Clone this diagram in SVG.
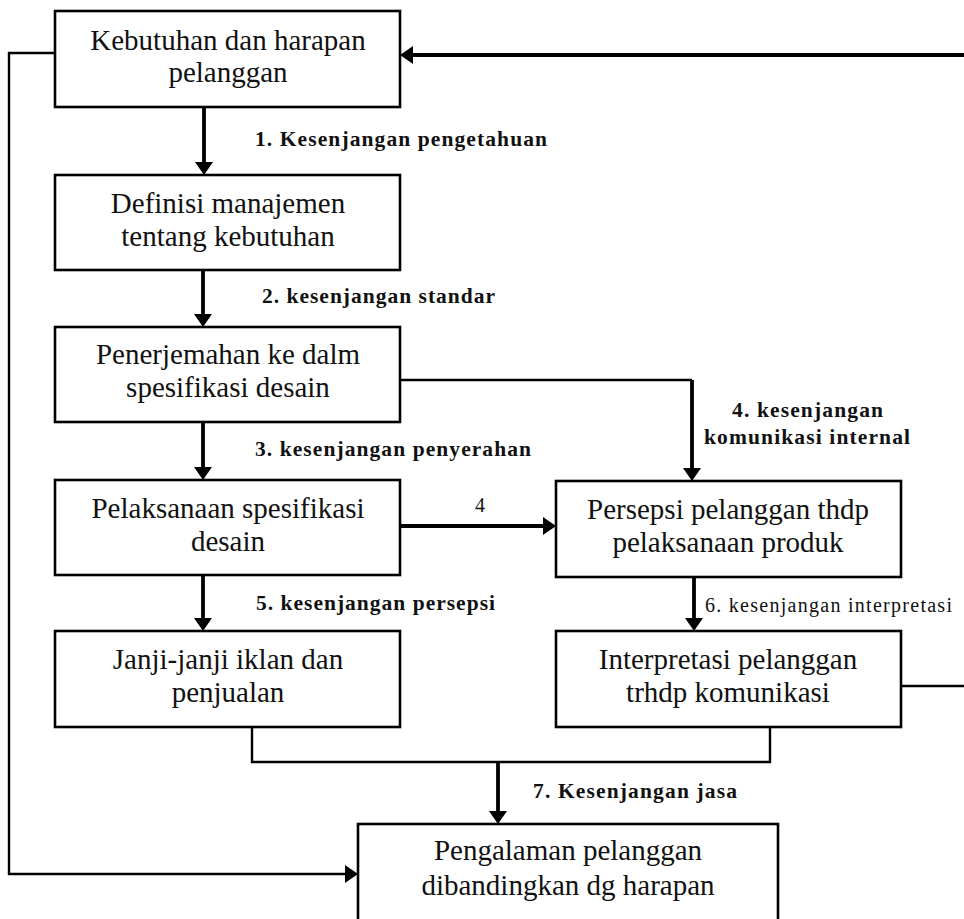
<svg xmlns="http://www.w3.org/2000/svg" width="964" height="919" viewBox="0 0 964 919">
<style>
.box{fill:#fff;stroke:#000;stroke-width:2.6}
.nt{font-family:"Liberation Serif","Times New Roman",serif;font-size:29px;fill:#111;text-anchor:middle}
.lb{font-family:"Liberation Serif","Times New Roman",serif;font-size:21.5px;font-weight:bold;fill:#111}
.lr{font-family:"Liberation Serif","Times New Roman",serif;font-size:20px;fill:#111}
.thin{fill:none;stroke:#000;stroke-width:2.4}
.thick{fill:none;stroke:#000;stroke-width:3.8}
</style>
<defs>
<marker id="ah" markerUnits="userSpaceOnUse" markerWidth="14" markerHeight="18" refX="10" refY="9" orient="auto">
<path d="M0,0 L13,9 L0,18 z" fill="#000"/>
</marker>
</defs>
<rect width="964" height="919" fill="#fff"/>
<g id="connectors">
<path class="thick" d="M204,107 V172" marker-end="url(#ah)"/>
<path class="thick" d="M203,270 V324" marker-end="url(#ah)"/>
<path class="thick" d="M203,422 V477" marker-end="url(#ah)"/>
<path class="thick" d="M203,575 V628" marker-end="url(#ah)"/>
<path class="thin" d="M400,380 H692"/>
<path class="thick" d="M692,380 V478" marker-end="url(#ah)"/>
<path class="thick" d="M400,526 H553" marker-end="url(#ah)"/>
<path class="thick" d="M694,577 V628" marker-end="url(#ah)"/>
<path class="thin" d="M901,686 H965.5 V55"/>
<path class="thick" d="M967,55 H403" marker-end="url(#ah)"/>
<path class="thin" d="M252,727 V762 H770 V727"/>
<path class="thick" d="M498,762 V821" marker-end="url(#ah)"/>
<path class="thin" d="M55,53 H9 V874 H355" marker-end="url(#ah)"/>
<text class="lb" x="255" y="146" textLength="292" lengthAdjust="spacing">1. Kesenjangan pengetahuan</text>
<text class="lb" x="262" y="303" textLength="233" lengthAdjust="spacing">2. kesenjangan standar</text>
<text class="lb" x="255" y="456" textLength="276" lengthAdjust="spacing">3. kesenjangan penyerahan</text>
<text class="lb" x="732" y="417" textLength="151" lengthAdjust="spacing">4. kesenjangan</text>
<text class="lb" x="704" y="444" textLength="206" lengthAdjust="spacing">komunikasi internal</text>
<text class="lr" x="475" y="512">4</text>
<text class="lb" x="256" y="610" textLength="239" lengthAdjust="spacing">5. kesenjangan persepsi</text>
<text class="lr" x="705" y="612" textLength="247" lengthAdjust="spacing">6. kesenjangan interpretasi</text>
<text class="lb" x="533" y="798" textLength="204" lengthAdjust="spacing">7. Kesenjangan jasa</text>
</g>
<g id="n1"><rect class="box" x="55" y="11" width="345" height="96"/><text class="nt" x="228" y="50">Kebutuhan dan harapan</text><text class="nt" x="228" y="82">pelanggan</text></g>
<g id="n2"><rect class="box" x="55" y="175" width="345" height="95"/><text class="nt" x="228" y="213">Definisi manajemen</text><text class="nt" x="228" y="246">tentang kebutuhan</text></g>
<g id="n3"><rect class="box" x="55" y="327" width="345" height="95"/><text class="nt" x="228" y="364">Penerjemahan ke dalm</text><text class="nt" x="228" y="397">spesifikasi desain</text></g>
<g id="n4"><rect class="box" x="55" y="480" width="345" height="95"/><text class="nt" x="228" y="518">Pelaksanaan spesifikasi</text><text class="nt" x="228" y="551">desain</text></g>
<g id="n5"><rect class="box" x="55" y="631" width="345" height="96"/><text class="nt" x="228" y="669">Janji-janji iklan dan</text><text class="nt" x="228" y="702">penjualan</text></g>
<g id="n6"><rect class="box" x="556" y="481" width="345" height="96"/><text class="nt" x="728" y="519">Persepsi pelanggan thdp</text><text class="nt" x="728" y="552">pelaksanaan produk</text></g>
<g id="n7"><rect class="box" x="556" y="631" width="345" height="96"/><text class="nt" x="728" y="669">Interpretasi pelanggan</text><text class="nt" x="728" y="702">trhdp komunikasi</text></g>
<g id="n8"><rect class="box" x="358" y="824" width="420" height="97"/><text class="nt" x="568" y="860">Pengalaman pelanggan</text><text class="nt" x="568" y="895">dibandingkan dg harapan</text></g>
</svg>
